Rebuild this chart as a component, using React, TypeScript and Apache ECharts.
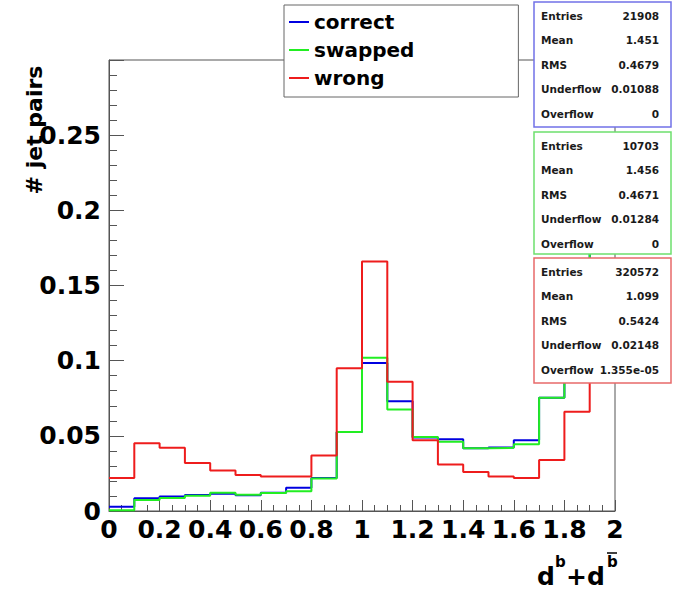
import React, { useEffect, useRef } from "react";
import * as echarts from "echarts";

// Histogram bin edges (21 edges -> 20 bins of width 0.1)
const binEdges = [0, 0.1, 0.2, 0.3, 0.4, 0.5, 0.6, 0.7, 0.8, 0.9, 1.0, 1.1, 1.2, 1.3, 1.4, 1.5, 1.6, 1.7, 1.8, 1.9, 2.0];

// Bin contents (normalised)
const correctValues = [0.0029, 0.0084, 0.0097, 0.0106, 0.0115, 0.0104, 0.0121, 0.0155, 0.0219, 0.0525, 0.0985, 0.073, 0.0489, 0.0477, 0.0417, 0.0422, 0.047, 0.0753, 0.125, 0.234];
const swappedValues = [0.0005, 0.0073, 0.0086, 0.0101, 0.0121, 0.0108, 0.0119, 0.0132, 0.0216, 0.0525, 0.102, 0.0675, 0.0492, 0.0461, 0.0417, 0.042, 0.0444, 0.0753, 0.13, 0.24];
const wrongValues = [0.022, 0.045, 0.042, 0.032, 0.027, 0.024, 0.023, 0.023, 0.037, 0.095, 0.166, 0.086, 0.047, 0.031, 0.026, 0.023, 0.022, 0.034, 0.066, 0.107];

const seriesNames = ["correct", "swapped", "wrong"];

// Statistics boxes
const statLabels = ["Entries", "Mean", "RMS", "Underflow", "Overflow"];
const correctStats = ["21908", "1.451", "0.4679", "0.01088", "0"];
const swappedStats = ["10703", "1.456", "0.4671", "0.01284", "0"];
const wrongStats = ["320572", "1.099", "0.5424", "0.02148", "1.355e-05"];

const FONT = "DejaVu Sans";

function histData(vals: number[]) {
  return binEdges.map((x, i) => [x, vals[Math.min(i, vals.length - 1)]]);
}

function statBox(top: number, height: number, color: string, values: string[]) {
  const els: any[] = [
    {
      type: "rect",
      z: 100,
      shape: { x: 534, y: top, width: 137, height },
      style: { fill: "#ffffff", stroke: color, lineWidth: 1.5 },
    },
  ];
  statLabels.forEach((lab, i) => {
    const y = top + 14 + 24.4 * i;
    els.push({
      type: "text",
      z: 101,
      style: { text: lab, x: 541, y, align: "left", verticalAlign: "middle", fontSize: 10.5, fontWeight: "bold", fontFamily: FONT, fill: "#1a1a1a" },
    });
    els.push({
      type: "text",
      z: 101,
      style: { text: values[i], x: 659, y, align: "right", verticalAlign: "middle", fontSize: 10.5, fontWeight: "bold", fontFamily: FONT, fill: "#1a1a1a" },
    });
  });
  return els;
}

export default function App() {
  const ref = useRef<HTMLDivElement>(null);
  useEffect(() => {
    if (!ref.current) return;
    const chart = echarts.init(ref.current, undefined, { renderer: "svg" });
    const axisColor = "#555";
    const labelStyle = { fontSize: 25, fontWeight: "bold", fontFamily: FONT, color: "#000" };
    const titleStyle = { fontWeight: "bold", fontFamily: FONT, fill: "#000", verticalAlign: "middle", align: "left" };
    const option: any = {
      animation: false,
      backgroundColor: "#fff",
      grid: { left: 109, right: 58, top: 60, bottom: 80, show: true, borderColor: axisColor, borderWidth: 1, backgroundColor: "transparent" },
      legend: {
        data: seriesNames,
        left: 284,
        top: 5,
        orient: "vertical",
        backgroundColor: "#fff",
        borderColor: "#666",
        borderWidth: 1,
        padding: [3, 104, 5, 5],
        itemGap: 0,
        itemWidth: 20,
        itemHeight: 2,
        icon: "rect",
        selectedMode: false,
        z: 50,
        textStyle: { fontSize: 20, fontWeight: "bold", fontFamily: FONT, color: "#000", lineHeight: 28 },
      },
      xAxis: {
        type: "value",
        min: 0,
        max: 2,
        interval: 0.2,
        axisLine: { show: true, onZero: false, lineStyle: { color: axisColor, width: 1 } },
        axisTick: { show: true, inside: true, length: 11, lineStyle: { color: axisColor } },
        minorTick: { show: true, splitNumber: 4, length: 6, lineStyle: { color: axisColor } },
        splitLine: { show: false },
        axisLabel: { ...labelStyle, margin: 6 },
      },
      yAxis: {
        type: "value",
        min: 0,
        max: 0.3,
        interval: 0.05,
        axisLine: { show: true, onZero: false, lineStyle: { color: axisColor, width: 1 } },
        axisTick: { show: true, inside: true, length: 15, lineStyle: { color: axisColor } },
        minorTick: { show: true, splitNumber: 5, length: 8, lineStyle: { color: axisColor } },
        splitLine: { show: false },
        axisLabel: { ...labelStyle, margin: 8, showMaxLabel: false },
      },
      series: [
        { name: "correct", type: "line", step: "end", showSymbol: false, data: histData(correctValues), lineStyle: { color: "#0000e0", width: 2 }, itemStyle: { color: "#0000e0" } },
        { name: "swapped", type: "line", step: "end", showSymbol: false, data: histData(swappedValues), lineStyle: { color: "#22ee22", width: 2 }, itemStyle: { color: "#22ee22" } },
        { name: "wrong", type: "line", step: "end", showSymbol: false, data: histData(wrongValues), lineStyle: { color: "#ee1c1c", width: 2 }, itemStyle: { color: "#ee1c1c" } },
      ],
      graphic: [
        {
          type: "text",
          x: 34,
          y: 130,
          rotation: Math.PI / 2,
          style: { text: "# jet pairs", x: 0, y: 0, align: "center", verticalAlign: "middle", fontSize: 22, fontWeight: "bold", fontFamily: FONT, fill: "#000" },
        },
        { type: "text", style: { ...titleStyle, text: "d", x: 537, y: 576, fontSize: 25 } },
        { type: "text", style: { ...titleStyle, text: "b", x: 555, y: 562, fontSize: 15 } },
        { type: "text", style: { ...titleStyle, text: "+d", x: 566, y: 576, fontSize: 25 } },
        { type: "text", style: { ...titleStyle, text: "b", x: 607, y: 562, fontSize: 15 } },
        { type: "line", shape: { x1: 607, y1: 553, x2: 617, y2: 553 }, style: { stroke: "#000", lineWidth: 1.5 } },
        ...statBox(2, 125, "#7272e8", correctStats),
        ...statBox(132, 122, "#6ee06e", swappedStats),
        ...statBox(258, 125, "#e86a6a", wrongStats),
      ],
    };
    chart.setOption(option);
    return () => chart.dispose();
  }, []);
  return <div ref={ref} style={{ width: 673, height: 591, position: "absolute", left: 0, top: 0 }} />;
}
